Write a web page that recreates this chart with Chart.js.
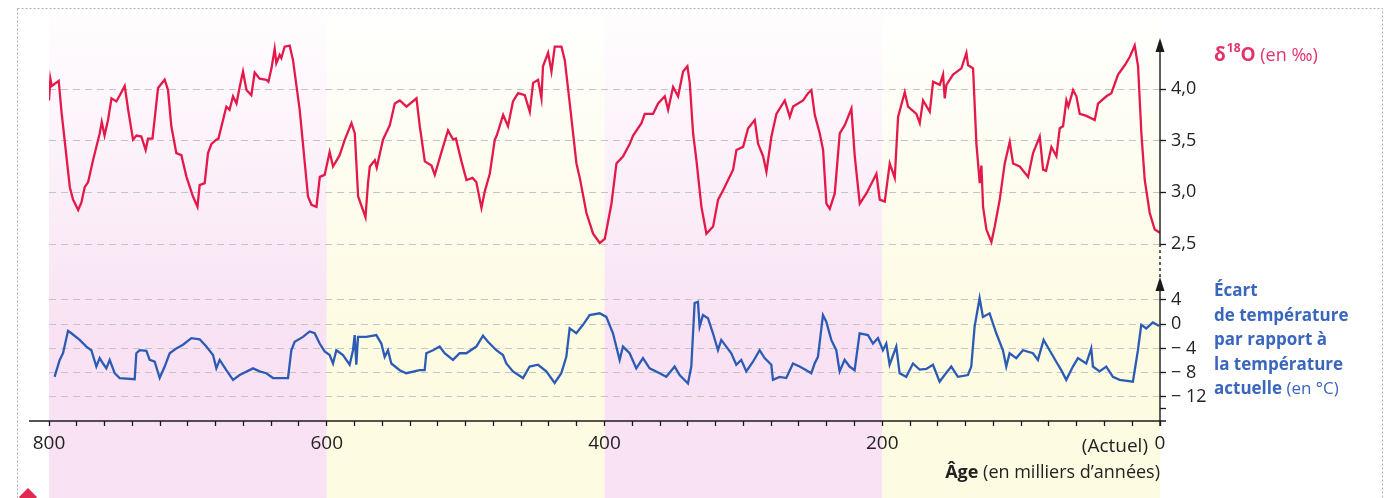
<!DOCTYPE html>
<html>
<head>
<meta charset="utf-8">
<script src="https://cdn.jsdelivr.net/npm/chart.js@4/dist/chart.umd.min.js"></script>
<style>
  html, body { margin: 0; padding: 0; background: #fff; }
  #wrap { width: 1395px; height: 498px; }
</style>
</head>
<body>
<div id="wrap"><canvas id="climat"></canvas></div>
<script>
// δ18O (‰), age in thousands of years
var d18oAge = [800, 799, 798, 793, 791, 785, 782.7, 779, 776.7, 774.3, 771.8, 768.3, 763.5, 762, 760, 757.5, 755, 751.5, 749, 745.5,
  743, 739.5, 737, 733.5, 730.4, 728.7, 725.5, 724, 721.5, 716.7, 714.3, 711.9, 708.3, 704.7, 701, 696.3, 693.1, 691.5, 687.9, 685.5,
  683, 679.5, 678, 672.3, 670, 667.5, 665, 662.7, 660.3, 657.8, 654.3, 651.9, 648.3, 643.5, 642, 639.8, 637.5, 636.3, 633.9, 632.7,
  630.3, 626.7, 624.3, 619.5, 613.5, 611, 607.4, 605, 601.5, 597.9, 595.5, 590.7, 587, 582.2, 579.8, 577.4, 572.1, 570.3, 569, 565.4,
  564, 559.5, 554.6, 551, 547.4, 542.6, 535.4, 533, 529.4, 524.6, 522.2, 517.4, 512.7, 509, 507, 503, 499.4, 495, 492.3, 488.6,
  486.2, 482.6, 479, 477.6, 473, 469.5, 465.9, 462.2, 457.4, 453.8, 451.4, 447.8, 445.4, 444.3, 440.6, 438.2, 435.8, 431, 428.6, 425,
  420.2, 417.8, 413, 408.2, 403.4, 399.8, 395, 391.4, 386.6, 381.8, 379.4, 373.4, 371, 365, 361.4, 356.6, 354.2, 350.6, 347, 343.4,
  340.3, 338.6, 336.2, 333.8, 330.2, 326.6, 321.8, 318.2, 314.6, 311, 307.4, 305, 300.2, 296.6, 291.8, 289.4, 285.8, 283.4, 279.8, 276.2,
  270.2, 266.6, 264.2, 257, 253.4, 251, 248.6, 245, 242.6, 240.2, 237.8, 234.2, 230.6, 227, 222.2, 219.8, 216.2, 211.4, 204.2, 201.8,
  198.2, 194.6, 191, 188.6, 183.8, 181.4, 175.4, 173, 170.6, 165.8, 163.4, 158.6, 156.2, 155, 153.8, 149, 143, 139.4, 138.2, 134.6,
  132.2, 129.8, 128.6, 127.4, 125, 121.4, 119, 115.4, 111.8, 108.2, 105.8, 101, 95, 91.4, 86.6, 84.2, 82, 78.2, 74.6, 72.2,
  69.8, 67.4, 66, 62.6, 60.2, 57.8, 53, 47, 44.6, 38.6, 35, 30.2, 25.4, 21.8, 18.2, 15.8, 13.4, 11, 7.4, 3.8, 0];
var d18oValue = [3.89, 4.10, 4.03, 4.08, 3.78, 3.05, 2.93, 2.83, 2.90, 3.05, 3.10, 3.31, 3.57, 3.68, 3.55, 3.70, 3.91, 3.88, 3.94, 4.03,
  3.80, 3.51, 3.55, 3.54, 3.41, 3.52, 3.52, 3.70, 4.01, 4.09, 3.99, 3.64, 3.38, 3.36, 3.15, 2.96, 2.86, 3.07, 3.09, 3.38,
  3.47, 3.51, 3.52, 3.83, 3.80, 3.93, 3.86, 4.02, 4.17, 3.99, 3.94, 4.16, 4.10, 4.09, 4.07, 4.20, 4.39, 4.25, 4.33, 4.30,
  4.41, 4.42, 4.28, 3.80, 2.96, 2.88, 2.86, 3.15, 3.17, 3.39, 3.25, 3.36, 3.51, 3.67, 3.57, 2.96, 2.76, 3.09, 3.25, 3.31,
  3.24, 3.51, 3.65, 3.86, 3.89, 3.83, 3.91, 3.64, 3.30, 3.26, 3.17, 3.39, 3.60, 3.51, 3.52, 3.30, 3.12, 3.14, 3.10, 2.85,
  3.01, 3.18, 3.51, 3.55, 3.75, 3.64, 3.88, 3.96, 3.94, 3.78, 4.06, 4.09, 3.91, 4.22, 4.35, 4.17, 4.41, 4.41, 4.28, 3.86,
  3.28, 3.14, 2.80, 2.60, 2.51, 2.55, 2.89, 3.28, 3.35, 3.47, 3.55, 3.67, 3.76, 3.76, 3.86, 3.93, 3.80, 4.02, 3.93, 4.17,
  4.22, 4.06, 3.57, 3.31, 2.86, 2.60, 2.67, 2.93, 3.02, 3.12, 3.22, 3.41, 3.44, 3.62, 3.70, 3.47, 3.35, 3.20, 3.54, 3.76,
  3.89, 3.73, 3.83, 3.89, 3.96, 3.99, 3.75, 3.57, 3.41, 2.89, 2.84, 2.99, 3.57, 3.65, 3.81, 3.35, 2.89, 2.99, 3.18, 2.93,
  2.91, 3.28, 3.14, 3.73, 3.97, 3.83, 3.76, 3.67, 3.89, 3.78, 4.07, 4.04, 4.14, 3.91, 4.04, 4.14, 4.20, 4.35, 4.23, 4.20,
  3.47, 3.09, 3.26, 2.86, 2.64, 2.52, 2.67, 2.93, 3.28, 3.49, 3.28, 3.25, 3.15, 3.38, 3.54, 3.22, 3.21, 3.44, 3.35, 3.62,
  3.64, 3.89, 3.83, 3.99, 3.93, 3.76, 3.74, 3.70, 3.86, 3.93, 3.96, 4.14, 4.23, 4.31, 4.42, 4.22, 3.57, 3.12, 2.80, 2.64, 2.61];

// écart de température (°C)
var tempAge = [796, 792.3, 789.9, 786.3, 783.9, 777.9, 773.1, 769.5, 765.9, 763.5, 761.1, 758.7, 756.3, 752.7, 749.1, 738.3, 737.1, 734.7, 729.9, 727.5,
  723.9, 720.3, 716.7, 713.1, 708.3, 703.5, 697.5, 691.5, 686.7, 681.9, 679.5, 677.1, 672.3, 667.5, 662.7, 653.1, 648.3, 643.5, 638.7, 627.9,
  625.5, 623.1, 617.1, 612.3, 608.7, 605.1, 601.5, 597.9, 595.5, 593.1, 588.3, 583.5, 581.1, 579.9, 578.7, 577.5, 571.5, 564.3, 560.7, 558.3,
  555.9, 553.5, 547.5, 542.7, 533.1, 529.5, 528.3, 523.5, 518.7, 515.1, 509.1, 504.3, 499.5, 492.3, 487.5, 483.9, 477.9, 473.1, 470.7, 465.9,
  458.7, 453.9, 447.9, 441.9, 435.9, 431.1, 427.5, 425.1, 420.3, 415.5, 410.7, 403.5, 398.7, 393.9, 389.1, 386.7, 381.9, 377.1, 372.3, 367.5,
  360.3, 355.5, 349.5, 345.9, 339.9, 337.5, 335.1, 332.7, 331.5, 329.1, 325.5, 321.9, 318.3, 315.9, 312.3, 308.7, 305.1, 301.5, 297.9, 293.1,
  288.3, 284.7, 279.9, 278.7, 273.9, 269.1, 264.3, 259.5, 254.7, 251.1, 248.7, 246.3, 242.7, 240.3, 236.7, 233.1, 230.7, 227.1, 223.5, 219.9,
  216.3, 210.3, 206.7, 203.1, 199.5, 197.1, 194.7, 189.9, 187.5, 182.7, 177.9, 173.1, 168.3, 163.5, 158.7, 155.1, 150.3, 145.5, 138.3, 135.9,
  133.5, 129.9, 127.5, 122.7, 117.9, 113.1, 110.7, 108.3, 103.5, 98.7, 91.5, 87.9, 83.8, 79.5, 74.7, 71.1, 67.5, 62.7, 59.1, 53.1,
  49.5, 48.3, 43.5, 38.7, 33.9, 29.1, 19.5, 15.9, 13.5, 9.9, 5.1, 0.7];
var tempValue = [-8.7, -5.9, -4.8, -1.1, -1.5, -2.6, -3.7, -4.3, -7.0, -5.6, -6.5, -7.3, -5.9, -8.1, -8.9, -9.1, -4.8, -4.3, -4.4, -5.9,
  -6.2, -8.9, -7.0, -4.8, -4.0, -3.4, -2.3, -2.5, -3.7, -5.1, -7.3, -5.9, -7.6, -9.2, -8.4, -7.3, -7.8, -8.1, -8.9, -8.9,
  -4.3, -2.9, -2.1, -1.2, -1.5, -3.2, -4.5, -5.1, -6.5, -4.3, -5.1, -6.7, -4.3, -1.8, -6.7, -2.1, -2.1, -1.8, -3.2, -5.4,
  -4.3, -6.5, -7.6, -8.1, -7.6, -7.6, -4.8, -4.3, -3.7, -4.8, -5.9, -4.8, -4.8, -3.7, -1.9, -2.9, -4.3, -5.1, -6.5, -7.8,
  -8.9, -7.0, -6.7, -7.8, -9.7, -8.1, -5.4, -0.7, -1.5, -0.1, 1.5, 1.8, 1.2, -1.5, -5.9, -3.7, -4.8, -7.3, -5.6, -7.3,
  -8.1, -8.7, -7.0, -8.4, -9.8, -7.0, 3.5, 3.7, -0.4, 1.5, 1.0, -1.5, -4.3, -2.6, -3.7, -4.8, -6.7, -5.9, -7.8, -6.2,
  -4.3, -5.6, -6.7, -9.2, -8.7, -8.9, -6.5, -7.0, -7.6, -8.1, -6.5, -5.4, 1.5, 0.4, -2.6, -4.3, -7.8, -5.9, -7.0, -7.6,
  -1.5, -1.8, -3.2, -2.3, -4.3, -3.2, -6.7, -3.7, -8.1, -8.7, -6.5, -7.5, -7.4, -6.7, -9.5, -8.4, -7.0, -8.7, -8.4, -7.0,
  -0.4, 4.3, 1.2, 1.8, -1.5, -4.3, -7.0, -4.8, -5.6, -4.3, -4.8, -5.9, -2.6, -4.3, -6.2, -7.6, -9.2, -7.0, -5.6, -6.5,
  -4.0, -7.0, -7.8, -7.0, -8.7, -9.2, -9.5, -4.3, -0.1, -0.7, 0.3, -0.3];

// axis ticks and period boundaries
var ageTicks = [800, 600, 400, 200, 0];
var d18oTicks = [2.5, 3.0, 3.5, 4.0];
var tempTicks = [4, 0, -4, -8, -12];

var FONT = "'Open Sans', 'DejaVu Sans', sans-serif";
var RED = '#e4194a';
var BLUE = '#2b5bb4';

function zip(xs, ys) {
  return xs.map(function (x, i) { return { x: x, y: ys[i] }; });
}
function hasTick(list, v) {
  return list.some(function (t) { return Math.abs(t - v) < 1e-6; });
}
function frNum(v, dec) {
  var s = Math.abs(v).toFixed(dec).replace('.', ',');
  return v < 0 ? '\u2212 ' + s : s;
}

var decor = {
  id: 'decor',
  beforeDraw: function (chart) {
    var c = chart.ctx, xs = chart.scales.x;
    c.save();
    c.fillStyle = '#fff';
    c.fillRect(0, 0, chart.width, chart.height);
    for (var i = 0; i < ageTicks.length - 1; i++) {
      var x0 = xs.getPixelForValue(ageTicks[i]);
      var x1 = xs.getPixelForValue(ageTicks[i + 1]);
      var col = i % 2 === 0 ? '248,226,243' : '253,251,226';
      var g = c.createLinearGradient(0, 12, 0, 330);
      g.addColorStop(0, 'rgba(' + col + ',0.05)');
      g.addColorStop(0.55, 'rgba(' + col + ',0.55)');
      g.addColorStop(1, 'rgba(' + col + ',1)');
      c.fillStyle = g;
      c.fillRect(x0, 12, x1 - x0, chart.height - 12);
    }
    c.setLineDash([2, 2]);
    c.strokeStyle = '#b0b0b0';
    c.lineWidth = 1;
    c.strokeRect(17.5, 8.5, 1365, 520);
    c.restore();
  },
  afterDraw: function (chart) {
    var c = chart.ctx, area = chart.chartArea;
    var yO = chart.scales.yO, yT = chart.scales.yT;
    var ax = area.right;
    c.save();
    c.strokeStyle = '#1a1a1a';
    c.fillStyle = '#1a1a1a';
    c.lineWidth = 1.4;
    // x axis line
    c.beginPath();
    c.moveTo(29, area.bottom);
    c.lineTo(ax + 6, area.bottom);
    c.stroke();
    // right axis: δ18O part, dotted link, temperature part
    var oBottom = yO.getPixelForValue(2.5);
    c.beginPath();
    c.moveTo(ax, yO.top + 10);
    c.lineTo(ax, oBottom);
    c.stroke();
    c.setLineDash([3, 3]);
    c.beginPath();
    c.moveTo(ax, oBottom);
    c.lineTo(ax, yT.top + 6);
    c.stroke();
    c.setLineDash([]);
    c.beginPath();
    c.moveTo(ax, yT.top + 10);
    c.lineTo(ax, area.bottom + 5);
    c.stroke();
    [yO.top, yT.top].forEach(function (t) {
      c.beginPath();
      c.moveTo(ax, t);
      c.lineTo(ax - 4.5, t + 14);
      c.lineTo(ax + 4.5, t + 14);
      c.closePath();
      c.fill();
    });
    // red mark bottom left
    c.fillStyle = '#e02a50';
    c.beginPath();
    c.moveTo(28, 488); c.lineTo(37, 497); c.lineTo(28, 506); c.lineTo(19, 497);
    c.closePath();
    c.fill();

    // texts
    c.textBaseline = 'alphabetic';
    c.textAlign = 'left';
    var tx = 1214;
    c.fillStyle = '#e3336c';
    c.font = 'bold 19px ' + FONT;
    c.fillText('\u03b4', tx, 61);
    var w = c.measureText('\u03b4').width;
    c.font = 'bold 12px ' + FONT;
    c.fillText('18', tx + w + 1, 52);
    w += c.measureText('18').width + 1;
    c.font = 'bold 19px ' + FONT;
    c.fillText('O', tx + w, 61);
    w += c.measureText('O').width;
    c.font = '18px ' + FONT;
    c.fillText(' (en \u2030)', tx + w, 61);

    c.fillStyle = '#3a67bd';
    c.font = 'bold 17px ' + FONT;
    var lines = ['\u00c9cart', 'de temp\u00e9rature', 'par rapport \u00e0', 'la temp\u00e9rature', 'actuelle'];
    lines.forEach(function (s, i) { c.fillText(s, tx, 296 + i * 24.6); });
    var lw = c.measureText('actuelle').width;
    c.font = '17px ' + FONT;
    c.fillText(' (en \u00b0C)', tx + lw, 296 + 4 * 24.6);

    c.fillStyle = '#222';
    c.textAlign = 'right';
    c.font = '19px ' + FONT;
    c.fillText('(Actuel)', ax - 12, 452);
    c.font = '18px ' + FONT;
    var rest = ' (en milliers d\u2019ann\u00e9es)';
    c.fillText(rest, ax, 478);
    var rw = c.measureText(rest).width;
    c.font = 'bold 18px ' + FONT;
    c.fillText('\u00c2ge', ax - rw, 478);
    c.restore();
  }
};

var ctx = document.getElementById('climat').getContext('2d');

var climatChart = new Chart(ctx, {
  type: 'line',
  data: {
    datasets: [{
      label: '\u03b418O',
      data: zip(d18oAge, d18oValue),
      yAxisID: 'yO',
      borderColor: RED,
      borderWidth: 2.3,
      pointRadius: 0,
      tension: 0
    }, {
      label: '\u00c9cart de temp\u00e9rature',
      data: zip(tempAge, tempValue),
      yAxisID: 'yT',
      borderColor: BLUE,
      borderWidth: 2.3,
      pointRadius: 0,
      tension: 0
    }]
  },
  options: {
    responsive: true,
    maintainAspectRatio: false,
    animation: false,
    layout: { padding: { left: 49, top: 38, right: 175, bottom: 0 } },
    plugins: { legend: { display: false }, tooltip: { enabled: false } },
    scales: {
      x: {
        type: 'linear',
        reverse: true,
        min: 0,
        max: 800,
        border: { display: false },
        grid: { drawOnChartArea: false, drawTicks: true, tickLength: 5, tickColor: '#1a1a1a', tickWidth: 1.3 },
        ticks: {
          stepSize: 20,
          autoSkip: false,
          maxRotation: 0,
          includeBounds: false,
          padding: 6,
          color: '#222',
          font: { family: FONT, size: 19 },
          callback: function (v) { return hasTick(ageTicks, v) ? String(v) : ''; }
        },
        afterFit: function (s) { s.height = 77; }
      },
      yO: {
        type: 'linear',
        position: 'right',
        stack: 'droite',
        stackWeight: 239,
        min: 2.181,
        max: 4.494,
        border: { display: false, dash: [7, 5] },
        grid: {
          color: function (c) { return c.tick && hasTick(d18oTicks, c.tick.value) ? '#c4c4c4' : 'rgba(0,0,0,0)'; },
          tickColor: function (c) { return c.tick && hasTick(d18oTicks, c.tick.value) ? '#1a1a1a' : 'rgba(0,0,0,0)'; },
          tickLength: 6,
          tickWidth: 1.3
        },
        ticks: {
          stepSize: 0.5,
          autoSkip: false,
          includeBounds: false,
          padding: 5,
          color: '#222',
          font: { family: FONT, size: 18 },
          callback: function (v) { return hasTick(d18oTicks, v) ? frNum(v, 1) : ''; }
        },
        afterFit: function (s) { s.width = 60; }
      },
      yT: {
        type: 'linear',
        position: 'right',
        stack: 'droite',
        stackWeight: 144,
        min: -16,
        max: 7.8,
        border: { display: false, dash: [7, 5] },
        grid: {
          color: function (c) { return c.tick && hasTick(tempTicks, c.tick.value) ? '#c4c4c4' : 'rgba(0,0,0,0)'; },
          tickColor: function (c) { return c.tick && (hasTick(tempTicks, c.tick.value) || c.tick.value === -14) ? '#1a1a1a' : 'rgba(0,0,0,0)'; },
          tickLength: 6,
          tickWidth: 1.3
        },
        ticks: {
          stepSize: 2,
          autoSkip: false,
          includeBounds: false,
          padding: 5,
          color: '#222',
          font: { family: FONT, size: 18 },
          callback: function (v) { return hasTick(tempTicks, v) ? frNum(v, 0) : ''; }
        },
        afterFit: function (s) { s.width = 60; }
      }
    }
  },
  plugins: [decor]
});
</script>
</body>
</html>
